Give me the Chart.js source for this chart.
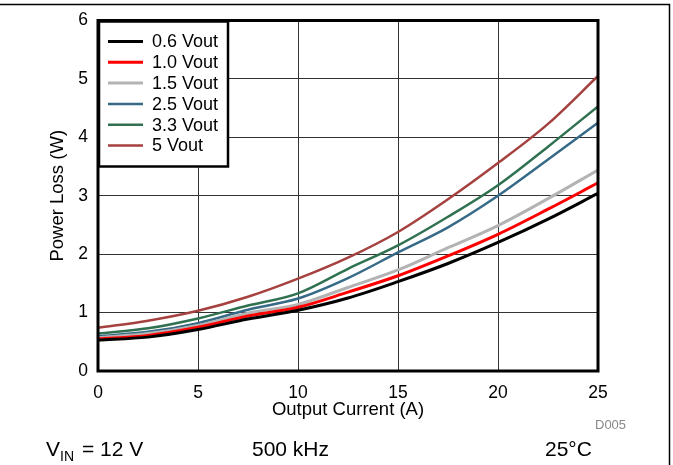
<!DOCTYPE html>
<html>
<head>
<meta charset="utf-8">
<script src="https://cdn.jsdelivr.net/npm/chart.js@4/dist/chart.umd.min.js"></script>
<style>
  html, body { margin: 0; padding: 0; background: #fff; }
  #wrap { width: 673px; height: 465px; position: relative; }
</style>
</head>
<body>
<div id="wrap"><canvas id="lossChart"></canvas></div>
<script>
// valeurs
const currents = [0, 2.5, 5, 7.5, 10, 12.5, 15, 17.5, 20, 22.5, 25];
const seriesNames = ["0.6 Vout", "1.0 Vout", "1.5 Vout", "2.5 Vout", "3.3 Vout", "5 Vout"];
const loss06 = [0.53, 0.58, 0.71, 0.89, 1.04, 1.25, 1.53, 1.84, 2.20, 2.60, 3.04];
const loss10 = [0.55, 0.61, 0.75, 0.94, 1.09, 1.35, 1.63, 1.97, 2.34, 2.77, 3.22];
const loss15 = [0.57, 0.64, 0.78, 0.99, 1.14, 1.43, 1.73, 2.11, 2.49, 2.95, 3.44];
const loss25 = [0.595, 0.67, 0.82, 1.05, 1.24, 1.59, 2.03, 2.46, 3.00, 3.62, 4.25];
const loss33 = [0.64, 0.73, 0.90, 1.12, 1.33, 1.75, 2.15, 2.64, 3.18, 3.84, 4.53];
const loss50 = [0.74, 0.86, 1.03, 1.27, 1.58, 1.94, 2.38, 2.94, 3.56, 4.23, 5.05];
const xTicks = [0, 5, 10, 15, 20, 25];
const yTicks = [0, 1, 2, 3, 4, 5, 6];

const colors = ["#000000", "#ff0000", "#b3b3b3", "#366a87", "#2f7150", "#a5413f"];
const widths = [3, 3, 3, 2.5, 2.5, 2.5];
const allLoss = [loss06, loss10, loss15, loss25, loss33, loss50];

const FONT = "'Liberation Sans', Arial, sans-serif";

const datasets = allLoss.map((vals, i) => ({
  label: seriesNames[i],
  data: vals.map((v, k) => ({ x: currents[k], y: v })),
  borderColor: colors[i],
  backgroundColor: colors[i],
  borderWidth: widths[i],
  pointRadius: 0,
  cubicInterpolationMode: "monotone",
  fill: false,
}));

// cadre du graphe + légende dans la zone
const framePlugin = {
  id: "frame",
  beforeDraw(chart) {
    const ctx = chart.ctx;
    ctx.save();
    ctx.fillStyle = "#fff";
    ctx.fillRect(0, 0, chart.width, chart.height);
    ctx.strokeStyle = "#000";
    ctx.lineWidth = 1.5;
    ctx.beginPath();
    ctx.moveTo(0, 4.5);
    ctx.lineTo(669.5, 4.5);
    ctx.lineTo(669.5, chart.height);
    ctx.stroke();
    ctx.restore();
  },
  afterDatasetsDraw(chart) {
    const ctx = chart.ctx;
    const a = chart.chartArea;
    ctx.save();
    // légende
    const lx = a.left, ly = a.top, lw = 131, lh = 147;
    ctx.fillStyle = "#fff";
    ctx.fillRect(lx, ly, lw, lh);
    ctx.strokeStyle = "#000";
    ctx.lineWidth = 2.5;
    ctx.strokeRect(lx + 1, ly + 1, lw - 2, lh - 2);
    ctx.font = "18px " + FONT;
    ctx.textBaseline = "middle";
    chart.data.datasets.forEach((ds, i) => {
      const y = ly + 21 + i * 20.8;
      ctx.strokeStyle = ds.borderColor;
      ctx.lineWidth = ds.borderWidth;
      ctx.beginPath();
      ctx.moveTo(lx + 10, y);
      ctx.lineTo(lx + 45, y);
      ctx.stroke();
      ctx.fillStyle = "#000";
      ctx.fillText(ds.label, lx + 54, y + 1);
    });
    // bordure de la zone
    ctx.strokeStyle = "#000";
    ctx.lineWidth = 3;
    ctx.strokeRect(a.left, a.top, a.right - a.left, a.bottom - a.top);
    ctx.restore();
  },
  afterDraw(chart) {
    const ctx = chart.ctx;
    ctx.save();
    ctx.fillStyle = "#888";
    ctx.font = "13px " + FONT;
    ctx.textBaseline = "alphabetic";
    ctx.fillText("D005", 595, 429);
    ctx.fillStyle = "#000";
    ctx.font = "21px " + FONT;
    ctx.fillText("V", 46, 456);
    ctx.font = "14px " + FONT;
    ctx.fillText("IN", 60, 461);
    ctx.font = "21px " + FONT;
    ctx.fillText("= 12 V", 82, 456);
    ctx.fillText("500 kHz", 252, 456);
    ctx.fillText("25°C", 545, 456);
    ctx.restore();
  },
};

new Chart(document.getElementById("lossChart"), {
  type: "line",
  data: { datasets },
  options: {
    responsive: true,
    maintainAspectRatio: false,
    animation: false,
    events: [],
    layout: { padding: { left: 0, top: 18, right: 75, bottom: 40 } },
    plugins: { legend: { display: false }, tooltip: { enabled: false } },
    scales: {
      x: {
        type: "linear",
        min: 0,
        max: 25,
        afterBuildTicks: (s) => { s.ticks = xTicks.map((v) => ({ value: v })); },
        afterFit: (s) => { s.height = 54; },
        grid: { color: "#333", lineWidth: 1, drawTicks: false },
        border: { display: false },
        ticks: { color: "#000", padding: 12, maxRotation: 0, font: { family: FONT, size: 17.5 } },
        title: {
          display: true,
          text: "Output Current (A)",
          color: "#000",
          font: { family: FONT, size: 18.5 },
          padding: { top: 0, bottom: 4 },
        },
      },
      y: {
        min: 0,
        max: 6,
        afterBuildTicks: (s) => { s.ticks = yTicks.map((v) => ({ value: v })); },
        afterFit: (s) => { s.width = 98; },
        grid: { color: "#333", lineWidth: 1, drawTicks: false },
        border: { display: false },
        ticks: { color: "#000", padding: 10, font: { family: FONT, size: 17.5 } },
        title: {
          display: true,
          text: "Power Loss (W)",
          color: "#000",
          font: { family: FONT, size: 18.5 },
          padding: { top: 47, bottom: 0 },
        },
      },
    },
  },
  plugins: [framePlugin],
});
</script>
</body>
</html>
